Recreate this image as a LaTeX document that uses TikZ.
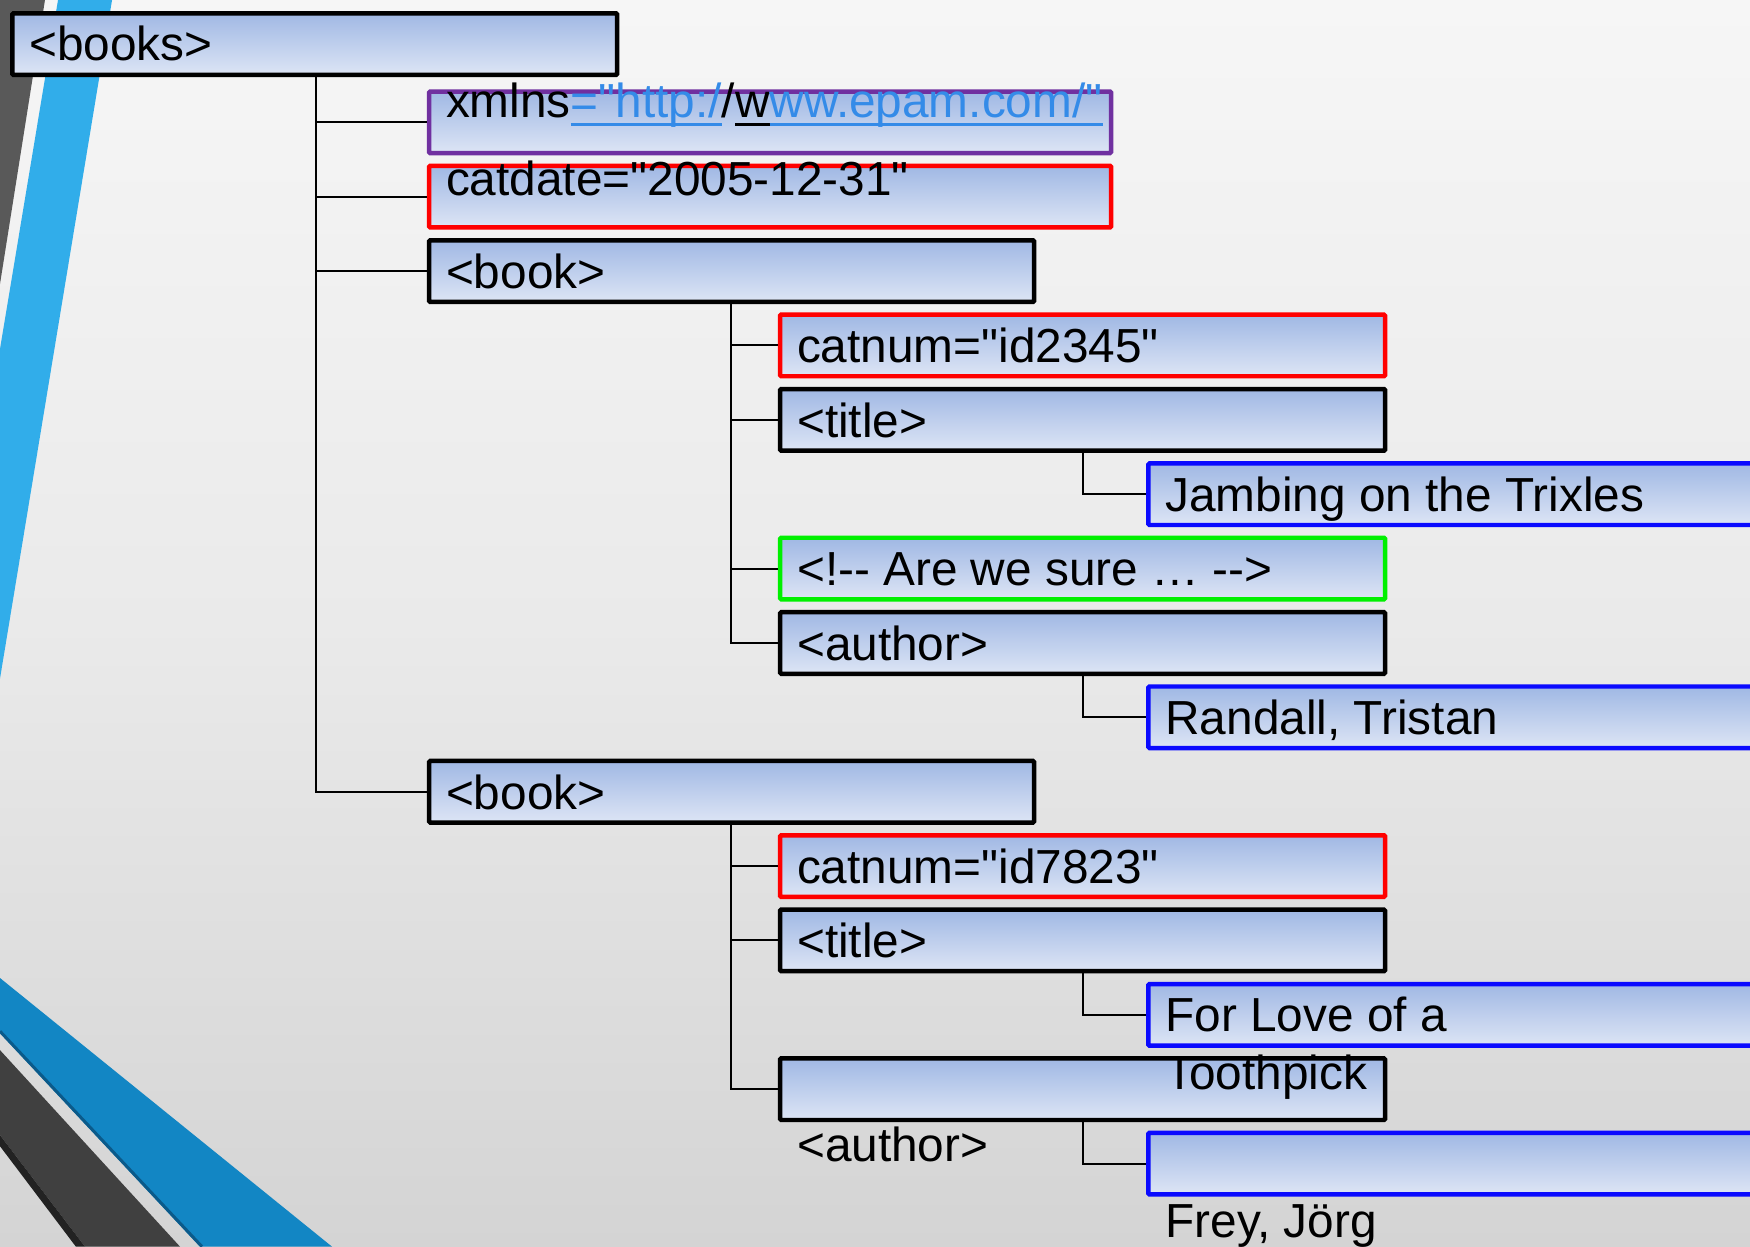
\documentclass[tikz,border=0pt]{standalone}
\usepackage{fontspec}
\setmainfont{Liberation Sans}[Ligatures=TeXOff]
\usetikzlibrary{calc}
\definecolor{boxtop}{HTML}{A0B8E4}
\definecolor{boxbot}{HTML}{DDE5F5}
\definecolor{bgtop}{HTML}{F6F6F6}
\definecolor{bgmid}{HTML}{EAEAEA}
\definecolor{bgbot}{HTML}{D4D4D4}
\definecolor{decoblue}{HTML}{31ADEA}
\definecolor{decogray}{HTML}{595959}
\definecolor{bandblue}{HTML}{1286C4}
\definecolor{banddark}{HTML}{0B5A8A}
\definecolor{bandgray}{HTML}{404040}
\definecolor{bandblack}{HTML}{222222}
\definecolor{linkblue}{HTML}{348BE8}
\definecolor{xpurple}{HTML}{7030A0}
\definecolor{xred}{HTML}{FF0000}
\definecolor{xgreen}{HTML}{00F000}
\definecolor{xblue}{HTML}{0A0AFF}
\newcommand\xmlul[1]{\setbox0=\hbox{#1}\rlap{\vrule height -5pt depth 7.4pt width \wd0}\box0}
\begin{document}
\begin{tikzpicture}[x=1pt,y=-1pt,
  xbox/.style={draw, line width=4pt, rounded corners=1pt, top color=boxtop, bottom color=boxbot,
    rectangle, anchor=north west, inner sep=0pt, minimum height=55.2pt},
  lvA/.style={minimum width=542pt},
  lvD/.style={minimum width=600pt},
  wide/.style={minimum width=611pt},
  txt/.style={anchor=base west, inner sep=0pt, font=\fontsize{42.8pt}{52pt}\selectfont, align=left},
  conn/.style={draw=black, line width=1.8pt}]
\useasboundingbox (0,0) rectangle (1568,1117);
\clip (0,0) rectangle (1568,1117);
% background
\shade[top color=bgtop, bottom color=bgbot, middle color=bgmid] (0,0) rectangle (1568,1117);
% decorations top-left
\fill[decogray] (0,0) -- (40.3,0) -- (0,254.5) -- cycle;
\fill[decoblue] (52,0) -- (100.4,0) -- (0,608) -- (0,312.7) -- cycle;
% decorations bottom-left
\fill[bandblue] (0,876.3) -- (297.5,1117) -- (179.2,1117) -- (0,925.6) -- cycle;
\draw[banddark, line width=2.7pt] (0,924) -- (181,1117);
\fill[bandgray] (0,940.9) -- (161.3,1117) -- (76.2,1117) -- (0,1017) -- cycle;
\fill[bandblack] (0,1017) -- (76.2,1117) -- (68,1117) -- (0,1027) -- cycle;

% trunks
\coordinate (trA) at (283,0);
\coordinate (trB) at (655,0);
\coordinate (trC) at (970,0);

% boxes (outer top = 80 + 66.64 (k-1))
\node[xbox, lvA, minimum height=55pt] (books) at (9,10) {};
\node[xbox, wide, draw=xpurple] (xmlns) at (382.5,80) {};
\node[xbox, wide, draw=xred] (catdate) at (382.5,146.6) {};
\node[xbox, lvA] (book1) at (382.5,213.3) {};
\node[xbox, lvA, draw=xred] (catnum1) at (697,279.9) {};
\node[xbox, lvA] (title1) at (697,346.6) {};
\node[xbox, lvD, draw=xblue] (jambing) at (1027,413.2) {};
\node[xbox, lvA, draw=xgreen] (comment) at (697,479.8) {};
\node[xbox, lvA] (author1) at (697,546.5) {};
\node[xbox, lvD, draw=xblue] (randall) at (1027,613.1) {};
\node[xbox, lvA] (book2) at (382.5,679.8) {};
\node[xbox, lvA, draw=xred] (catnum2) at (697,746.4) {};
\node[xbox, lvA] (title2) at (697,813.0) {};
\node[xbox, lvD, draw=xblue] (forlove) at (1027,879.7) {};
\node[xbox, lvA] (author2) at (697,946.3) {};
\node[xbox, lvD, draw=xblue] (frey) at (1027,1013.0) {};

% connectors
\draw[conn] (books.south -| trA) |- (xmlns.west);
\draw[conn] (books.south -| trA) |- (catdate.west);
\draw[conn] (books.south -| trA) |- (book1.west);
\draw[conn] (books.south -| trA) |- (book2.west);
\draw[conn] (book1.south -| trB) |- (catnum1.west);
\draw[conn] (book1.south -| trB) |- (title1.west);
\draw[conn] (book1.south -| trB) |- (comment.west);
\draw[conn] (book1.south -| trB) |- (author1.west);
\draw[conn] (title1.south -| trC) |- (jambing.west);
\draw[conn] (author1.south -| trC) |- (randall.west);
\draw[conn] (book2.south -| trB) |- (catnum2.west);
\draw[conn] (book2.south -| trB) |- (title2.west);
\draw[conn] (book2.south -| trB) |- (author2.west);
\draw[conn] (title2.south -| trC) |- (forlove.west);
\draw[conn] (author2.south -| trC) |- (frey.west);

% texts
\node[txt] (tbooks) at (26,54.5) {<books>};
\node[txt] (txmlns) at (399.5,105.5) {xmlns{\color{linkblue}\xmlul{="http:/}}/\xmlul{w}{\color{linkblue}\xmlul{ww.epam.com/"}}};
\node[txt] (tcatdate) at (399.5,175) {catdate="2005-12-31"};
\node[txt] (tbook1) at (399.5,258.5) {<book>};
\node[txt] (tcatnum1) at (714,325.2) {catnum="id2345"};
\node[txt] (ttitle1) at (714,391.8) {<title>};
\node[txt] (tjambing) at (1044,458.4) {Jambing on the Trixles};
\node[txt] (tcomment) at (714,525.0) {<!-{}- Are we sure … -{}->};
\node[txt] (tauthor1) at (714,591.7) {<author>};
\node[txt] (trandall) at (1044,658.3) {Randall, Tristan};
\node[txt] (tbook2) at (399.5,725.0) {<book>};
\node[txt] (tcatnum2) at (714,791.6) {catnum="id7823"};
\node[txt] (ttitle2) at (714,858.2) {<title>};
\node[txt] (tforlove) at (1044,924.0) {For Love of a};
\node[txt] (ttooth) at (1044,976.5) {Toothpick};
\node[txt] (tauthor2) at (714,1040.5) {<author>};
\node[txt] (tfrey) at (1044,1108.5) {Frey, Jörg};
\end{tikzpicture}
\end{document}
